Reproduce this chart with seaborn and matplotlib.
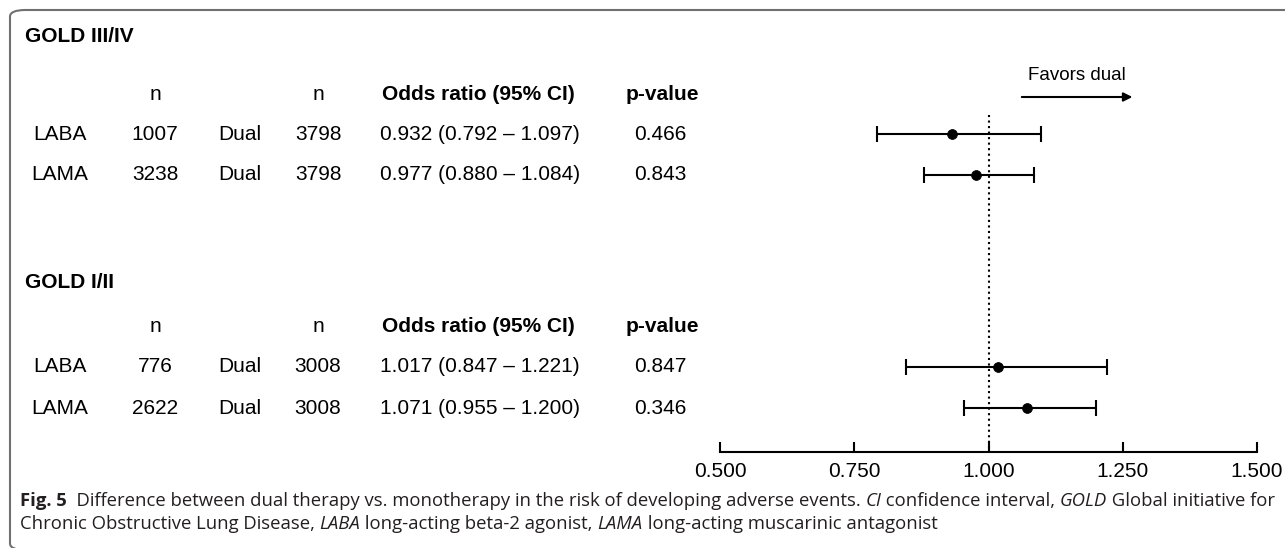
import pandas as pd
import matplotlib.pyplot as plt
import seaborn as sns
from matplotlib.patches import FancyBboxPatch

# data
groups = ['GOLD III/IV', 'GOLD I/II']
mono = ['LABA', 'LAMA', 'LABA', 'LAMA']
n_mono = [1007, 3238, 776, 2622]
n_dual = [3798, 3798, 3008, 3008]
odds = [0.932, 0.977, 1.017, 1.071]
ci_low = [0.792, 0.880, 0.847, 0.955]
ci_high = [1.097, 1.084, 1.221, 1.200]
p_values = [0.466, 0.843, 0.847, 0.346]
x_ticks = [0.5, 0.75, 1.0, 1.25, 1.5]

# layout (pixel rows from the top of the figure)
W, H = 1285, 548
title_y = [36, 283]
header_y = [95, 326]
row_y = [134, 175, 367, 408]
axis_y = 452

df = pd.DataFrame({'mono': mono, 'n_mono': n_mono, 'n_dual': n_dual,
                   'odds': odds, 'lo': ci_low, 'hi': ci_high, 'p': p_values,
                   'y': row_y})

sns.set_style('white')
plt.rcParams['font.family'] = ['Liberation Sans', 'DejaVu Sans']
plt.rcParams['text.color'] = 'black'
plt.rcParams['xtick.color'] = 'black'
plt.rcParams['xtick.labelcolor'] = 'black'

fig = plt.figure(figsize=(W / 100, H / 100), dpi=100)


def px(x, y):
    return x / W, 1 - y / H


# rounded frame (only top and left edges visible)
frame = FancyBboxPatch(px(10, 550), (1400 - 10) / W, (550 - 10) / H,
                       boxstyle='round,pad=0,rounding_size=0.012',
                       transform=fig.transFigure, fill=False,
                       edgecolor='#707070', linewidth=1.5)
fig.patches.append(frame)

fs = 15
# table part
for g, ty, hy in zip(groups, title_y, header_y):
    fig.text(*px(25, ty), g, fontsize=fs, fontweight='bold', va='center')
    fig.text(*px(155, hy), 'n', fontsize=fs, ha='center', va='center')
    fig.text(*px(318, hy), 'n', fontsize=fs, ha='center', va='center')
    fig.text(*px(478, hy), 'Odds ratio (95% CI)', fontsize=fs,
             fontweight='bold', ha='center', va='center')
    fig.text(*px(662, hy), 'p-value', fontsize=fs, fontweight='bold',
             ha='center', va='center')

for _, r in df.iterrows():
    fig.text(*px(60, r.y), r.mono, fontsize=fs, ha='center', va='center')
    fig.text(*px(155, r.y), f'{r.n_mono}', fontsize=fs, ha='center', va='center')
    fig.text(*px(240, r.y), 'Dual', fontsize=fs, ha='center', va='center')
    fig.text(*px(318, r.y), f'{r.n_dual}', fontsize=fs, ha='center', va='center')
    fig.text(*px(480, r.y), f'{r.odds:.3f} ({r.lo:.3f} \u2013 {r.hi:.3f})',
             fontsize=fs, ha='center', va='center')
    fig.text(*px(660, r.y), f'{r.p:.3f}', fontsize=fs, ha='center', va='center')

# forest plot
top = 60
ax = fig.add_axes([720 / W, (H - axis_y) / H, (1257 - 720) / W, (axis_y - top) / H])
ax.errorbar(df['odds'], df['y'], xerr=[df['odds'] - df['lo'], df['hi'] - df['odds']],
            fmt='none', ecolor='black', elinewidth=1.5, capsize=6, capthick=1.5)
sns.scatterplot(data=df, x='odds', y='y', ax=ax, color='black', s=50,
                edgecolor='black', zorder=3, legend=False)
ax.vlines(1.0, 115, axis_y, colors='black', linestyles=':', linewidth=1.5)
ax.set_xlim(0.5, 1.5)
ax.set_ylim(axis_y, top)
ax.set_xticks(x_ticks)
ax.set_xticklabels([f'{t:.3f}' for t in x_ticks])
ax.set_yticks([])
ax.set_xlabel('')
ax.set_ylabel('')
for s in ['left', 'top', 'right']:
    ax.spines[s].set_visible(False)
ax.spines['bottom'].set_linewidth(1.5)
ax.spines['bottom'].set_color('black')
ax.tick_params(axis='x', direction='in', length=7, width=1.5, labelsize=fs,
               pad=7, bottom=True, colors='black')
ax.patch.set_alpha(0)

ax.annotate('', xy=(1.268, 97), xytext=(1.062, 97),
            arrowprops=dict(arrowstyle='-|>', color='black', lw=1.5,
                            mutation_scale=13, shrinkA=0, shrinkB=0),
            annotation_clip=False)
ax.text(1.165, 76, 'Favors dual', fontsize=13.5, ha='center', va='center')

# caption with mixed styles
cap_fs = 13.3
cap_font = ['Open Sans', 'DejaVu Sans']
line1 = [('Fig. 5', 'normal', 'bold'),
         ('  Difference between dual therapy vs. monotherapy in the risk of developing adverse events. ', 'normal', 'normal'),
         ('CI', 'italic', 'normal'),
         (' confidence interval, ', 'normal', 'normal'),
         ('GOLD', 'italic', 'normal'),
         (' Global initiative for', 'normal', 'normal')]
line2 = [('Chronic Obstructive Lung Disease, ', 'normal', 'normal'),
         ('LABA', 'italic', 'normal'),
         (' long-acting beta-2 agonist, ', 'normal', 'normal'),
         ('LAMA', 'italic', 'normal'),
         (' long-acting muscarinic antagonist', 'normal', 'normal')]

renderer = fig.canvas.get_renderer()
for pieces, ly in [(line1, 501), (line2, 524)]:
    x = 20
    for txt, style, weight in pieces:
        t = fig.text(*px(x, ly), txt, fontsize=cap_fs, family=cap_font,
                     style=style, fontweight=weight, va='center', color='#231f20')
        x += t.get_window_extent(renderer).width

plt.savefig('out.png', dpi=100)
